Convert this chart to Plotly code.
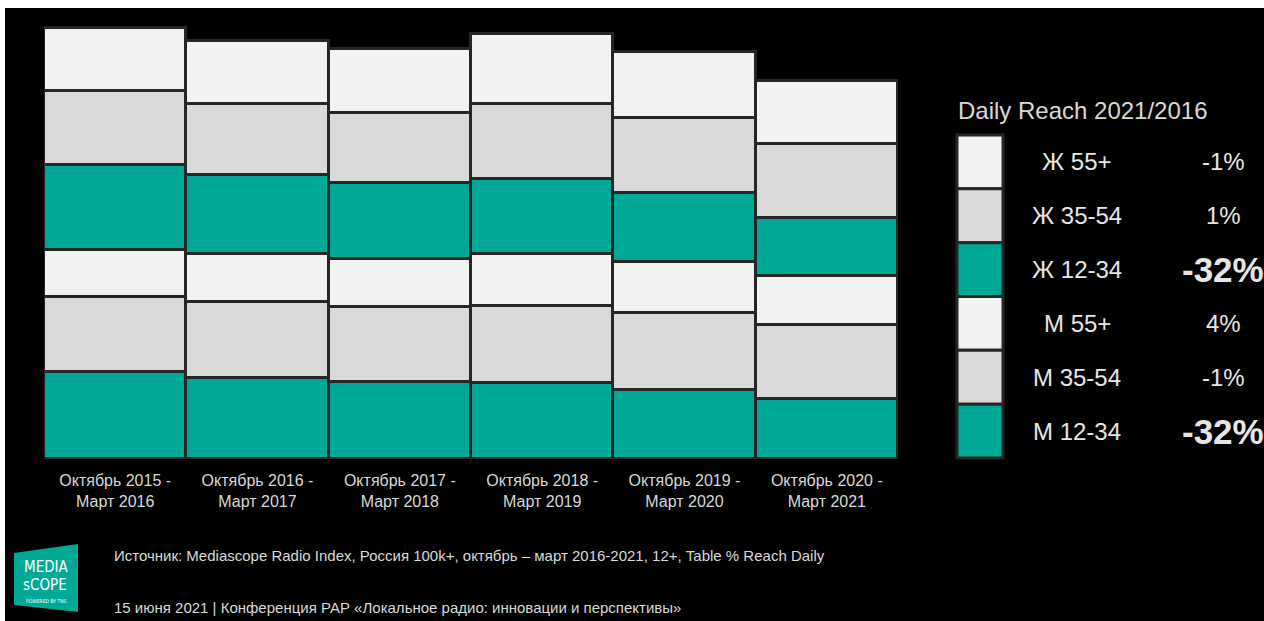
import plotly.graph_objects as go

# Periods (x categories)
periods = [
    "Октябрь 2015 -<br>Март 2016",
    "Октябрь 2016 -<br>Март 2017",
    "Октябрь 2017 -<br>Март 2018",
    "Октябрь 2018 -<br>Март 2019",
    "Октябрь 2019 -<br>Март 2020",
    "Октябрь 2020 -<br>Март 2021",
]

# Daily reach by audience group, stacked bottom to top
m_12_34 = [58.3, 54.3, 51.2, 50.8, 46.3, 39.7]
m_35_54 = [50.0, 50.2, 50.3, 51.5, 51.1, 49.5]
m_55 = [31.3, 32.0, 32.0, 34.2, 34.2, 32.5]
f_12_34 = [56.7, 52.9, 50.2, 50.2, 45.8, 38.7]
f_35_54 = [49.3, 47.1, 47.1, 50.2, 50.2, 49.8]
f_55 = [42.0, 42.5, 42.7, 46.7, 43.5, 41.6]

# Legend table: group names (top to bottom) and change 2021 vs 2016
legend_groups = ["Ж 55+", "Ж 35-54", "Ж 12-34", "М 55+", "М 35-54", "М 12-34"]
legend_changes = ["-1%", "1%", "-32%", "4%", "-1%", "-32%"]
legend_title = "Daily Reach 2021/2016"

source_text = ("Источник: Mediascope Radio Index, Россия 100k+, октябрь – март 2016-2021, "
               "12+, Table % Reach Daily")
footer_text = "15 июня 2021 | Конференция РАР «Локальное радио: инновации и перспективы»"

WHITE = "#F2F2F2"
GRAY = "#D9D9D9"
TEAL = "#00A995"
EDGE = "#262626"
TEXT = "#D9D9D9"
FONT = "Liberation Sans, Arial, sans-serif"

series = [
    ("М 12-34", m_12_34, TEAL),
    ("М 35-54", m_35_54, GRAY),
    ("М 55+", m_55, WHITE),
    ("Ж 12-34", f_12_34, TEAL),
    ("Ж 35-54", f_35_54, GRAY),
    ("Ж 55+", f_55, WHITE),
]
legend_colors = [WHITE, GRAY, TEAL, WHITE, GRAY, TEAL]

# Canvas geometry (pixels)
W_PX, H_PX = 1264, 621
L, R, T, B = 44, 366, 20, 162
PW = W_PX - L - R
PH = H_PX - T - B
UNIT_PX = 1.5


def fx(px):
    return (px - L) / PW


def fy(py):
    return (H_PX - B - py) / PH


fig = go.Figure()
for name, vals, col in series:
    fig.add_trace(go.Bar(
        x=periods, y=vals, name=name,
        marker=dict(color=col, line=dict(color=EDGE, width=3)),
        showlegend=False,
    ))

shapes = []
annotations = []

# White strips along the top and left edges
shapes.append(dict(type="rect", xref="paper", yref="paper",
                   x0=fx(0), x1=fx(W_PX), y0=fy(8), y1=fy(0),
                   fillcolor="white", line=dict(width=0), layer="above"))
shapes.append(dict(type="rect", xref="paper", yref="paper",
                   x0=fx(0), x1=fx(5), y0=fy(H_PX), y1=fy(0),
                   fillcolor="white", line=dict(width=0), layer="above"))

# Legend table
row_top, row_h = 135, (458 - 135) / 6
annotations.append(dict(text=legend_title, xref="paper", yref="paper",
                        x=fx(956), y=fy(110), xanchor="left", yanchor="middle",
                        showarrow=False, font=dict(family=FONT, size=24, color=TEXT)))
for i, (grp, chg, col) in enumerate(zip(legend_groups, legend_changes, legend_colors)):
    y0 = row_top + i * row_h
    y1 = y0 + row_h
    yc = (y0 + y1) / 2
    shapes.append(dict(type="rect", xref="paper", yref="paper",
                       x0=fx(957), x1=fx(1003), y0=fy(y1), y1=fy(y0),
                       fillcolor=col, line=dict(color=EDGE, width=3)))
    annotations.append(dict(text=grp, xref="paper", yref="paper",
                            x=fx(1077), y=fy(yc), xanchor="center", yanchor="middle",
                            showarrow=False, font=dict(family=FONT, size=24, color="#E6E6E6")))
    big = chg == "-32%"
    annotations.append(dict(text=f"<b>{chg}</b>" if big else chg,
                            xref="paper", yref="paper",
                            x=fx(1223), y=fy(yc), xanchor="center", yanchor="middle",
                            showarrow=False,
                            font=dict(family=FONT, size=35 if big else 24, color="#E6E6E6")))

# Footer
annotations.append(dict(text=source_text, xref="paper", yref="paper",
                        x=fx(112), y=fy(555), xanchor="left", yanchor="middle",
                        showarrow=False, font=dict(family=FONT, size=15, color=TEXT)))
annotations.append(dict(text=footer_text, xref="paper", yref="paper",
                        x=fx(112), y=fy(607), xanchor="left", yanchor="middle",
                        showarrow=False, font=dict(family=FONT, size=15, color=TEXT)))

# Mediascope logo
logo_pts = [(14, 553), (78, 544), (78, 612), (14, 605)]
path = "M " + " L ".join(f"{fx(x)},{fy(y)}" for x, y in logo_pts) + " Z"
shapes.append(dict(type="path", xref="paper", yref="paper", path=path,
                   fillcolor=TEAL, line=dict(width=0)))
logo_font = "Liberation Sans Narrow, DejaVu Sans Condensed, sans-serif"
annotations.append(dict(text="MEDIA", xref="paper", yref="paper",
                        x=fx(46), y=fy(567), xanchor="center", yanchor="middle",
                        showarrow=False, font=dict(family=logo_font, size=15, color="white")))
annotations.append(dict(text="sCOPE", xref="paper", yref="paper",
                        x=fx(45), y=fy(585), xanchor="center", yanchor="middle",
                        showarrow=False, font=dict(family=logo_font, size=15, color="white")))
annotations.append(dict(text="POWERED BY TNS", xref="paper", yref="paper",
                        x=fx(46), y=fy(601), xanchor="center", yanchor="middle",
                        showarrow=False, font=dict(family=logo_font, size=5, color="white")))

fig.update_layout(
    width=W_PX, height=H_PX,
    margin=dict(l=L, r=R, t=T, b=B, pad=0),
    paper_bgcolor="black", plot_bgcolor="black",
    barmode="stack", bargap=0,
    xaxis=dict(showgrid=False, zeroline=False, showline=False, ticks="",
               ticklabelstandoff=10,
               tickfont=dict(family=FONT, size=16, color=TEXT), fixedrange=True),
    yaxis=dict(range=[0, PH / UNIT_PX], visible=False, fixedrange=True),
    shapes=shapes, annotations=annotations,
    font=dict(family=FONT),
)

fig.write_html("out.html", config=dict(displayModeBar=False))
